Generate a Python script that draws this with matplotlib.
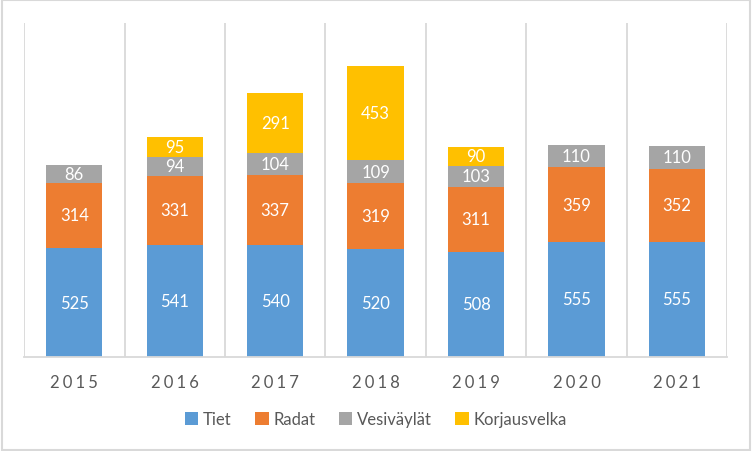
import numpy as np
import matplotlib.pyplot as plt
from matplotlib.patches import Rectangle

# data
years = ["2015", "2016", "2017", "2018", "2019", "2020", "2021"]
tiet = [525, 541, 540, 520, 508, 555, 555]
radat = [314, 331, 337, 319, 311, 359, 352]
vesivaylat = [86, 94, 104, 109, 103, 110, 110]
korjausvelka = [0, 95, 291, 453, 90, 0, 0]

series = [
    ("Tiet", tiet, "#5B9BD5"),
    ("Radat", radat, "#ED7D31"),
    ("Vesiväylät", vesivaylat, "#A5A5A5"),
    ("Korjausvelka", korjausvelka, "#FFC000"),
]

plt.rcParams["font.family"] = ["Lato", "DejaVu Sans"]

fig = plt.figure(figsize=(7.52, 4.52), dpi=100)
ax = fig.add_axes([0.032, 0.208, 0.935, 0.739])

x = np.arange(len(years))
bottom = np.zeros(len(years))
for name, vals, color in series:
    vals = np.array(vals, dtype=float)
    ax.bar(x, vals, 0.56, bottom=bottom, color=color, label=name, zorder=2)
    for xi, b, v in zip(x, bottom, vals):
        if v > 0:
            ax.text(xi, b + v / 2, f"{int(v)}", ha="center", va="center",
                    color="white", fontsize=12, zorder=3)
    bottom += vals

ax.set_xlim(-0.5, len(years) - 0.5)
ax.set_ylim(0, 1610)

# category separators
ax.set_xticks(np.arange(-0.5, len(years)), minor=True)
ax.grid(True, which="minor", axis="x", color="#D9D9D9", linewidth=1.3, zorder=0)
ax.tick_params(which="minor", length=0)

ax.set_xticks(x)
ax.set_xticklabels(["\u2009\u200a".join(y) for y in years], color="#595959", fontsize=12)
ax.tick_params(axis="x", length=0, pad=12)
ax.set_yticks([])

for s in ["top", "right", "left"]:
    ax.spines[s].set_visible(False)
ax.spines["bottom"].set_color("#D9D9D9")
ax.spines["bottom"].set_linewidth(1.3)

leg = fig.legend(loc="center", bbox_to_anchor=(0.5, 0.07), ncol=4, frameon=False,
                 fontsize=12, handlelength=0.8, handleheight=0.8, handletextpad=0.3,
                 columnspacing=1.4)
for t in leg.get_texts():
    t.set_color("#595959")

fig.patches.append(Rectangle((0.002, 0.003), 0.995, 0.994, transform=fig.transFigure,
                             fill=False, edgecolor="#D9D9D9", linewidth=1.5))

fig.savefig("out.png", dpi=100)
